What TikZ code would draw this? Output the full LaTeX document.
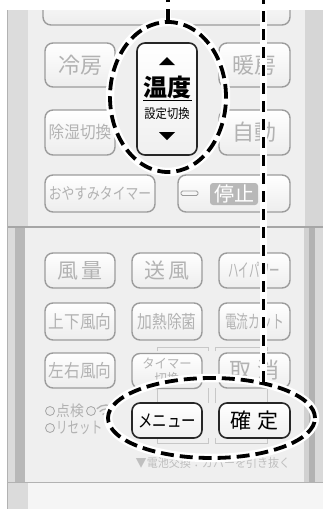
\documentclass[tikz,border=0pt]{standalone}
\usepackage{fontspec}
\setmainfont{Noto Sans CJK JP}
\usepackage{xcolor}
\usetikzlibrary{shapes.geometric}

\definecolor{panel}{HTML}{EFEFEF}
\definecolor{sidegray}{HTML}{DCDCDC}
\definecolor{edgegray}{HTML}{9C9C9C}
\definecolor{labelgray}{HTML}{B2B2B2}

\newcommand{\fsz}[1]{\fontsize{#1}{#1}\selectfont}
\newcommand{\squeeze}[2]{\scalebox{#1}[1]{#2}}

\tikzset{
  graybtn/.style={draw=edgegray, line width=1.4pt, rounded corners=8pt, top color=white, bottom color=black!7, text=labelgray, inner sep=0pt},
  blackbtn/.style={draw=black!85, line width=1.6pt, rounded corners=8pt, top color=white, bottom color=black!6, text=black, inner sep=0pt},
  ring/.style={ellipse, inner sep=0pt, draw=black, line width=3.8pt, dash pattern=on 13pt off 6pt, preaction={draw=white, line width=8.5pt, solid}},
  leader/.style={draw=black, line width=3.6pt, dash pattern=on 11pt off 7pt, preaction={draw=white, line width=6.5pt, solid}},
  lamp/.style={circle, inner sep=0pt, minimum size=9pt, draw=black!35, line width=0.8pt, fill=black!8},
  bracket/.style={draw=black!22, line width=1pt},
}

\begin{document}
\begin{tikzpicture}[x=1pt, y=-1pt]
  \useasboundingbox (0,0) rectangle (323,509);
  \fill[white] (0,0) rectangle (323,509);

  % body of the remote
  \fill[panel] (7,10) rectangle (323,482);
  \fill[sidegray] (7,10) rectangle (28,227);
  \fill[black!16] (305,10) rectangle (323,227);
  \fill[black!14] (7,227) rectangle (15,482);
  \fill[black!28] (15,227) rectangle (25,482);
  \fill[black!18] (304,227) rectangle (309,482);
  \fill[black!30] (309,227) rectangle (315,482);
  \fill[black!15] (315,227) rectangle (323,482);
  \fill[black!4] (7,482) rectangle (323,509);
  \fill[black!14] (7,482) rectangle (28,509);
  \draw[black!35, line width=1.5pt] (7,227) -- (323,227);
  \draw[black!30, line width=1pt] (7,482) -- (323,482);
  \draw[black!30, line width=0.8pt] (7,10) -- (7,509);

  \begin{scope}
    \clip (7,10) rectangle (323,509);
    \node[graybtn, minimum width=247pt, minimum height=40pt] (topbtn) at (166.5,5) {};
  \end{scope}

  % upper buttons
  \node[graybtn, minimum width=70pt, minimum height=44pt, font=\fsz{22}] (cool) at (80,65) {冷房};
  \node[graybtn, minimum width=71pt, minimum height=44pt, font=\fsz{22}] (heat) at (254.5,65) {暖房};
  \node[graybtn, minimum width=70pt, minimum height=45pt, font=\fsz{17}] (dehum) at (80,132.5) {\squeeze{0.92}{除湿切換}};
  \node[graybtn, minimum width=71pt, minimum height=45pt, font=\fsz{22}] (auto) at (254.5,132.5) {自動};
  \node[graybtn, minimum width=110pt, minimum height=37pt, font=\fsz{16}] (sleep) at (100,193.5) {\squeeze{0.8}{おやすみタイマー}};
  \node[graybtn, minimum width=112pt, minimum height=37pt] (stop) at (234,193.5) {};
  \draw[edgegray, line width=0.9pt, rounded corners=1.5pt] (181,191) rectangle (198,195.5);
  \fill[black!28, rounded corners=3pt] (210,183) rectangle (258,205);
  \node[text=white, font=\fsz{20}, inner sep=0pt] (stoplabel) at (234,194) {停止};

  % temperature button
  \node[blackbtn, minimum width=60pt, minimum height=112pt] (temp) at (167,99) {};
  \fill (159,65) -- (175,65) -- (167,57) -- cycle;
  \node[font=\fsz{24}\bfseries, inner sep=0pt] (templabel) at (167,87) {温度};
  \draw[line width=0.9pt] (143,100) -- (192,100);
  \node[font=\fsz{13}, inner sep=0pt] (setlabel) at (167,113.5) {\squeeze{0.87}{設定切換}};
  \fill (159,132) -- (175,132) -- (167,140) -- cycle;

  % thin brackets
  \foreach \xa/\xb in {157/208, 215/267} {
    \draw[bracket] (\xa,351) -- (\xa,347) -- (\xb,347) -- (\xb,351);
    \draw[bracket] (\xa,388) -- (\xa,403);
    \draw[bracket] (\xb,388) -- (\xb,403);
    \draw[bracket] (\xa,438) -- (\xa,443) -- (\xb,443) -- (\xb,438);
  }

  % lower buttons
  \node[graybtn, minimum width=70pt, minimum height=35pt, font=\fsz{21}] (fan) at (80,270.5) {風\hspace{4pt}量};
  \node[graybtn, minimum width=70pt, minimum height=35pt, font=\fsz{21}] (blow) at (167,270.5) {送\hspace{4pt}風};
  \node[graybtn, minimum width=71pt, minimum height=35pt, font=\fsz{19}] (power) at (254.5,270.5) {\squeeze{0.55}{ハイパワー}};
  \node[graybtn, minimum width=70pt, minimum height=37pt, font=\fsz{18}] (updown) at (80,321.5) {\squeeze{0.87}{上下風向}};
  \node[graybtn, minimum width=70pt, minimum height=37pt, font=\fsz{18}] (sterile) at (167,321.5) {\squeeze{0.82}{加熱除菌}};
  \node[graybtn, minimum width=71pt, minimum height=37pt, font=\fsz{18}] (cut) at (254.5,321.5) {\squeeze{0.65}{電流カット}};
  \node[graybtn, minimum width=70pt, minimum height=35pt, font=\fsz{18}] (leftright) at (80,370.5) {\squeeze{0.87}{左右風向}};
  \node[graybtn, minimum width=70pt, minimum height=35pt, font=\fontsize{13}{15}\selectfont, align=center] (timer) at (167,371) {\squeeze{0.95}{タイマー}\\\squeeze{0.95}{切換}};
  \node[graybtn, minimum width=71pt, minimum height=35pt, font=\fsz{22}] (cancel) at (254.5,370.5) {取\hspace{6pt}消};
  \node[blackbtn, minimum width=70pt, minimum height=35pt, font=\fsz{18}] (menu) at (167,420.5) {\squeeze{0.8}{メニュー}};
  \node[blackbtn, minimum width=71pt, minimum height=35pt, font=\fsz{21}] (ok) at (254.5,420.5) {確\hspace{6pt}定};

  % lamps and notes
  \node[lamp] (checklamp) at (50,411) {};
  \node[anchor=west, text=labelgray, font=\fsz{15}, inner sep=0pt] (checklabel) at (56,411) {\squeeze{0.92}{点検}};
  \node[lamp] (wifilamp) at (91,411) {};
  \fill[labelgray] (106,418) circle (1.5pt);
  \foreach \r in {5,9,13} {
    \draw[labelgray, line width=1.3pt] (106,418) ++(-135:\r) arc (-135:-45:\r);
  }
  \node[lamp] (resetlamp) at (50,428) {};
  \node[anchor=west, text=labelgray, font=\fsz{16}, inner sep=0pt] (resetlabel) at (56,428) {\squeeze{0.72}{リセット}};
  \node[text=black!25, font=\fsz{12}, inner sep=0pt] (battery) at (213,463) {\squeeze{0.92}{▼電池交換：カバーを引き抜く}};

  % callouts
  \coordinate (topA) at (168,0);
  \coordinate (topB) at (261,0);
  \node[ring, minimum width=116pt, minimum height=150pt] (tempring) at (168,97) {};
  \node[ring, minimum width=207pt, minimum height=80pt] (menuring) at (211.5,418) {};
  \draw[leader] (tempring.north) -- (topA);
  \draw[leader] (menuring.35) -- (menuring.35 |- topB);
\end{tikzpicture}
\end{document}
